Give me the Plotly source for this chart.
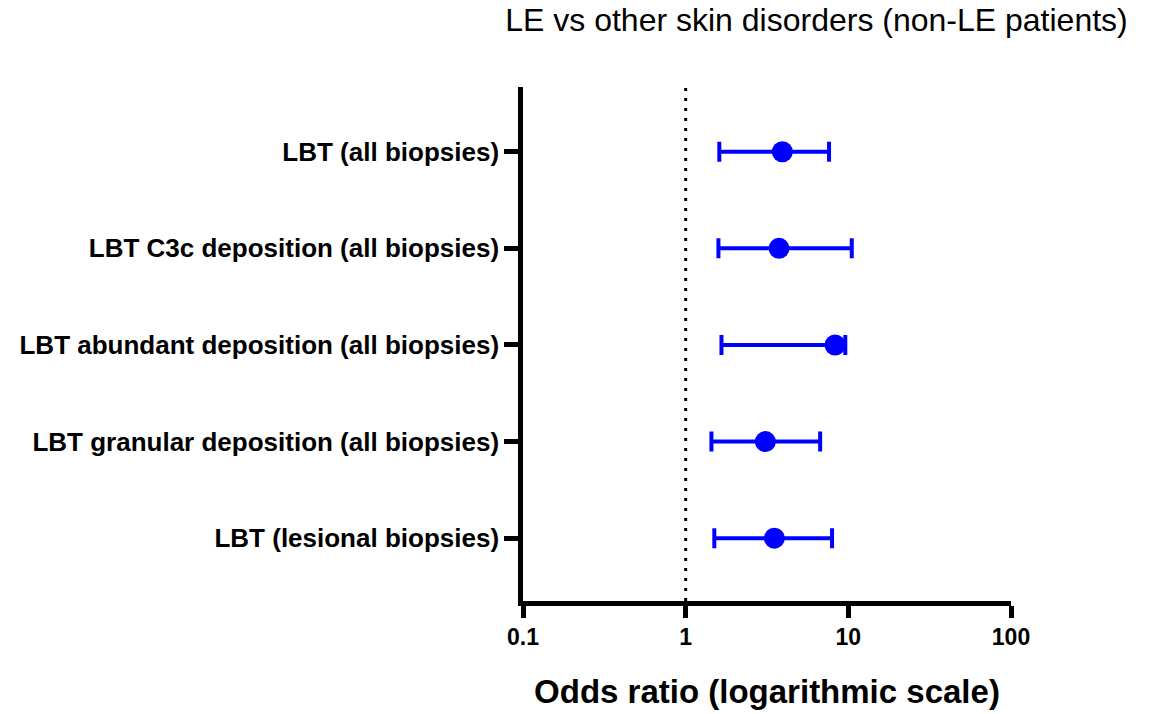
import plotly.graph_objects as go

categories = [
    "LBT (all biopsies)",
    "LBT C3c deposition (all biopsies)",
    "LBT abundant deposition (all biopsies)",
    "LBT granular deposition (all biopsies)",
    "LBT (lesional biopsies)",
]
odds_ratio = [3.93, 3.75, 8.29, 3.09, 3.51]
ci_lower = [1.61, 1.59, 1.66, 1.44, 1.50]
ci_upper = [7.61, 10.5, 9.58, 6.71, 7.94]
x_ticks = [0.1, 1, 10, 100]
x_tick_labels = ["0.1", "1", "10", "100"]

n = len(categories)
ypos = [n - 1 - i for i in range(n)]
err_plus = [u - o for u, o in zip(ci_upper, odds_ratio)]
err_minus = [o - l for o, l in zip(odds_ratio, ci_lower)]

BLUE = "#0000FF"
FONT = "Liberation Sans, Arial, sans-serif"

W, H = 1159, 714

fig = go.Figure()
fig.add_trace(go.Scatter(
    x=odds_ratio, y=ypos, mode="markers",
    marker=dict(size=21, color=BLUE),
    error_x=dict(type="data", symmetric=False, array=err_plus, arrayminus=err_minus,
                 color=BLUE, thickness=4, width=10),
    showlegend=False, hoverinfo="x+y",
))

fig.add_shape(type="line", xref="x", yref="paper", x0=1, x1=1, y0=0, y1=1,
              line=dict(color="black", width=3, dash="3px,7px"), layer="below")

fig.update_layout(
    width=W, height=H,
    margin=dict(l=523, r=148, t=87, b=113, autoexpand=False),
    plot_bgcolor="white", paper_bgcolor="white",
    font=dict(family=FONT, color="black"),
    title=dict(text="LE vs other skin disorders (non-LE patients)",
               xref="container", yref="container", x=816.5 / W, y=1 - 20 / H,
               xanchor="center", yanchor="middle",
               font=dict(family=FONT, size=32, color="black")),
    xaxis=dict(type="log", range=[-1, 2], tickvals=x_ticks, ticktext=x_tick_labels,
               automargin=False,
               showline=True, linewidth=4.5, linecolor="black", showgrid=False, zeroline=False,
               ticks="outside", ticklen=12, tickwidth=4.5, tickcolor="black",
               tickfont=dict(family=FONT, size=23, color="black", weight="bold"),
               title=dict(text="<b>Odds ratio (logarithmic scale)</b>", standoff=32,
                          font=dict(family=FONT, size=33, color="black"))),
    yaxis=dict(range=[-0.65, 4.67], tickvals=ypos, ticktext=["<b>%s</b>" % c for c in categories],
               automargin=False,
               showline=True, linewidth=4.5, linecolor="black", showgrid=False, zeroline=False,
               ticks="outside", ticklen=14, tickwidth=4.5, tickcolor="black",
               tickfont=dict(family=FONT, size=26, color="black")),
)

fig.write_html("out.html", config={"displayModeBar": False},
               post_script="document.body.style.margin='0';")
